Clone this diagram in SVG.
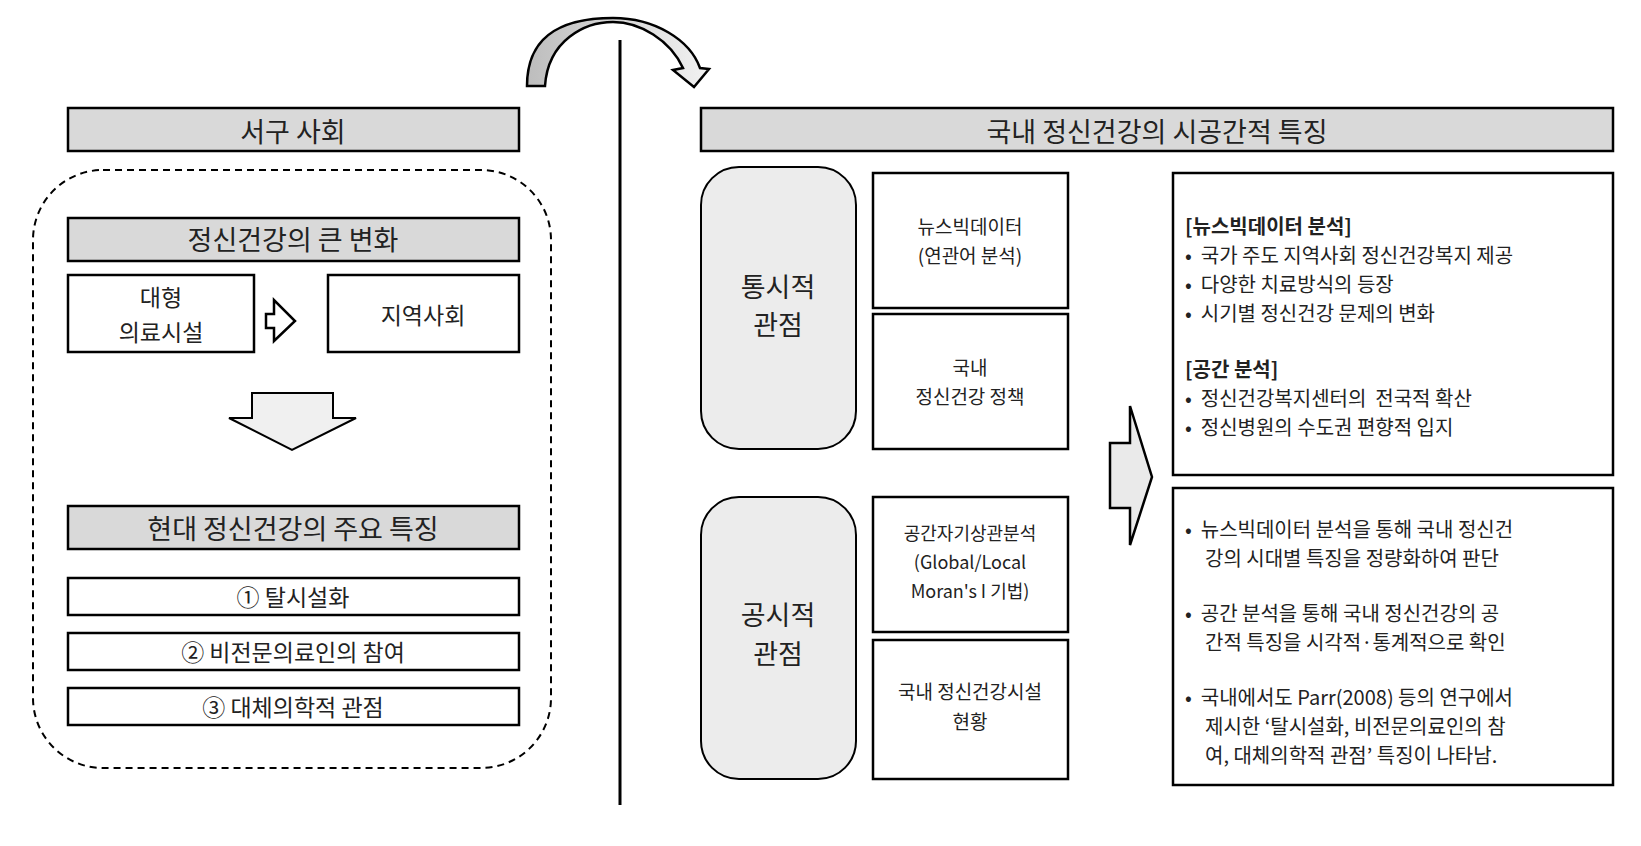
<svg xmlns="http://www.w3.org/2000/svg" width="1641" height="846" viewBox="0 0 1641 846">
<style>
text{font-family:"Noto Sans CJK KR","Noto Sans",sans-serif;fill:#222}
.hd{fill:#d9d9d9;stroke:#000;stroke-width:2.5}
.bx{fill:#fff;stroke:#000;stroke-width:2.5}
.rb{fill:#ececec;stroke:#000;stroke-width:2}
.c{text-anchor:middle}
</style>
<defs><linearGradient id="g" x1="0" x2="1"><stop offset="0" stop-color="#bdbdbd"/><stop offset="1" stop-color="#f2f2f2"/></linearGradient></defs>
<g id="connectors">
<line x1="620" y1="40" x2="620" y2="805" stroke="#000" stroke-width="3"/>
<path d="M527,86 C527,30 570,18 613,18 C655,18 690,40 700,68 L709,69 L694,87 L673,70 L683,68 C670,40 640,22 613,22 C585,22 548,40 545,86 Z" fill="url(#g)" stroke="#000" stroke-width="2.5" stroke-linejoin="miter"/>
<path d="M252,393 L252,418 L229,418 L292,450 L356,418 L333,418 L333,393 Z" fill="#f0f0f0" stroke="#000" stroke-width="2"/>
<path d="M274,300 L274,314 L266,314 L266,328 L274,328 L274,341 L295,321 Z" fill="#fff" stroke="#000" stroke-width="2.5"/>
<path d="M1110,443 L1130,443 L1130,406 L1152,477 L1130,545 L1130,508 L1110,508 Z" fill="#eaeaea" stroke="#000" stroke-width="2.5"/>
</g>
<g id="west"><rect class="hd" x="68" y="108" width="451" height="43"/><text class="c" x="293" y="142" font-size="27">서구 사회</text></g>
<g id="dashed"><rect x="33" y="170" width="518" height="598" rx="70" fill="none" stroke="#000" stroke-width="2" stroke-dasharray="7,5"/></g>
<g id="change"><rect class="hd" x="68" y="218" width="451" height="43"/><text class="c" x="293" y="250" font-size="27">정신건강의 큰 변화</text></g>
<g id="big"><rect class="bx" x="68" y="275" width="186" height="77"/><text class="c" x="161" y="306" font-size="23">대형</text><text class="c" x="161" y="341" font-size="23">의료시설</text></g>
<g id="local"><rect class="bx" x="328" y="275" width="191" height="77"/><text class="c" x="423" y="324" font-size="23">지역사회</text></g>
<g id="modern"><rect class="hd" x="68" y="506" width="451" height="43"/><text class="c" x="293" y="539" font-size="27">현대 정신건강의 주요 특징</text></g>
<g id="f1"><rect class="bx" x="68" y="578" width="451" height="37"/><text class="c" x="293" y="606" font-size="23">① 탈시설화</text></g>
<g id="f2"><rect class="bx" x="68" y="633" width="451" height="37"/><text class="c" x="293" y="661" font-size="23">② 비전문의료인의 참여</text></g>
<g id="f3"><rect class="bx" x="68" y="688" width="451" height="37"/><text class="c" x="293" y="716" font-size="23">③ 대체의학적 관점</text></g>
<g id="domestic"><rect class="hd" x="701" y="108" width="912" height="43"/><text class="c" x="1157" y="142" font-size="27">국내 정신건강의 시공간적 특징</text></g>
<g id="diachronic"><rect class="rb" x="701" y="167" width="155" height="282" rx="38"/><text class="c" x="778" y="297" font-size="27">통시적</text><text class="c" x="778" y="335" font-size="27">관점</text></g>
<g id="synchronic"><rect class="rb" x="701" y="497" width="155" height="282" rx="38"/><text class="c" x="778" y="625" font-size="27">공시적</text><text class="c" x="778" y="664" font-size="27">관점</text></g>
<g id="news"><rect class="bx" x="873" y="173" width="195" height="135"/><text class="c" x="970" y="234" font-size="19">뉴스빅데이터</text><text class="c" x="970" y="263" font-size="19">(연관어 분석)</text></g>
<g id="policy"><rect class="bx" x="873" y="314" width="195" height="135"/><text class="c" x="970" y="375" font-size="19">국내</text><text class="c" x="970" y="404" font-size="19">정신건강 정책</text></g>
<g id="spatial"><rect class="bx" x="873" y="497" width="195" height="135"/><text class="c" x="970" y="540" font-size="18">공간자기상관분석</text><text class="c" x="970" y="569" font-size="18">(Global/Local</text><text class="c" x="970" y="598" font-size="18">Moran's I 기법)</text></g>
<g id="facility"><rect class="bx" x="873" y="640" width="195" height="139"/><text class="c" x="970" y="699" font-size="19">국내 정신건강시설</text><text class="c" x="970" y="729" font-size="19">현황</text></g>
<g id="result1" font-size="20"><rect class="bx" x="1173" y="173" width="440" height="302"/>
<text x="1185" y="234" font-weight="bold">[뉴스빅데이터 분석]</text>
<text x="1185" y="263" xml:space="preserve">•  국가 주도 지역사회 정신건강복지 제공</text>
<text x="1185" y="292" xml:space="preserve">•  다양한 치료방식의 등장</text>
<text x="1185" y="321" xml:space="preserve">•  시기별 정신건강 문제의 변화</text>
<text x="1185" y="377" font-weight="bold">[공간 분석]</text>
<text x="1185" y="406" xml:space="preserve">•  정신건강복지센터의  전국적 확산</text>
<text x="1185" y="435" xml:space="preserve">•  정신병원의 수도권 편향적 입지</text></g>
<g id="result2" font-size="20"><rect class="bx" x="1173" y="488" width="440" height="297"/>
<text x="1185" y="537" xml:space="preserve">•  뉴스빅데이터 분석을 통해 국내 정신건</text>
<text x="1205" y="566">강의 시대별 특징을 정량화하여 판단</text>
<text x="1185" y="621" xml:space="preserve">•  공간 분석을 통해 국내 정신건강의 공</text>
<text x="1205" y="650">간적 특징을 시각적·통계적으로 확인</text>
<text x="1185" y="705" xml:space="preserve">•  국내에서도 Parr(2008) 등의 연구에서</text>
<text x="1205" y="734">제시한 ‘탈시설화, 비전문의료인의 참</text>
<text x="1205" y="763">여, 대체의학적 관점’ 특징이 나타남.</text></g>
</svg>
